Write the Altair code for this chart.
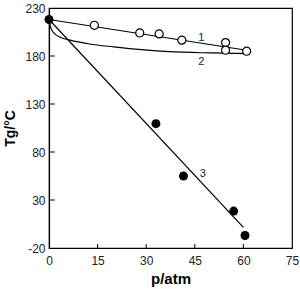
import altair as alt
import pandas as pd

# data
open_p = [14, 28, 34, 41, 54.5, 54.5, 61]
open_T = [212, 204, 203, 196.5, 194, 186, 185]
filled_p = [0, 33, 41.5, 57, 60.5]
filled_T = [218, 109.5, 55, 18.5, -7]
line1_p = [0, 62]
line1_T = [218, 185.5]
line3_p = [0, 60]
line3_T = [218, 1.5]
curve2_p = [0, 0.5, 1.5, 3.5, 6.5, 12.5, 20, 37, 50, 62]
curve2_T = [218, 210, 204, 199.5, 196.5, 192.5, 189.5, 184.5, 183.2, 182.5]
label_text = ["1", "2", "3"]
label_p = [47, 47, 47.5]
label_T = [199, 174, 57]
x_ticks = [0, 15, 30, 45, 60, 75]
y_ticks = [-20, 30, 80, 130, 180, 230]

W, H = 243, 240
FONT = "Liberation Sans"

xs = alt.Scale(domain=[0, 75], nice=False, zero=False)
ys = alt.Scale(domain=[-20, 230], nice=False, zero=False)

xax = alt.Axis(values=x_ticks, title="p/atm", ticks=False, grid=False,
               labelFontSize=12, labelPadding=7, labelColor="#222",
               titleFontSize=15, titleFont=FONT, titleFontWeight="bold",
               titlePadding=5, domainColor="black", labelFlush=False)
yax = alt.Axis(values=y_ticks, title="Tg/°C", ticks=False, grid=False,
               labelFontSize=12, labelPadding=4, labelColor="#222",
               labelExpr="replace(datum.label, '\u2212', '-')",
               titleFontSize=14, titleFont=FONT, titleFontWeight="bold",
               titlePadding=7, domainColor="black", labelFlush=False)

df_open = pd.DataFrame({"p": open_p, "T": open_T})
df_fill = pd.DataFrame({"p": filled_p, "T": filled_T})
df_l1 = pd.DataFrame({"p": line1_p, "T": line1_T})
df_l3 = pd.DataFrame({"p": line3_p, "T": line3_T})
df_c2 = pd.DataFrame({"p": curve2_p, "T": curve2_T})
df_lab = pd.DataFrame({"p": label_p, "T": label_T, "t": label_text})
df_xt = pd.DataFrame({"v": x_ticks[1:-1]})
df_yt = pd.DataFrame({"v": y_ticks[1:-1]})

l1 = alt.Chart(df_l1).mark_line(color="black", strokeWidth=1.2).encode(
    x=alt.X("p:Q", scale=xs, axis=xax), y=alt.Y("T:Q", scale=ys, axis=yax))
l3 = alt.Chart(df_l3).mark_line(color="black", strokeWidth=1.2).encode(
    x=alt.X("p:Q", scale=xs), y=alt.Y("T:Q", scale=ys))
c2 = alt.Chart(df_c2).mark_line(color="black", strokeWidth=1.2, interpolate="monotone").encode(
    x=alt.X("p:Q", scale=xs), y=alt.Y("T:Q", scale=ys))
op = alt.Chart(df_open).mark_point(shape="circle", filled=False, color="black",
                                    fill="white", fillOpacity=1, size=65, strokeWidth=1.2).encode(
    x=alt.X("p:Q", scale=xs), y=alt.Y("T:Q", scale=ys))
fp = alt.Chart(df_fill).mark_circle(color="black", size=80, opacity=1).encode(
    x=alt.X("p:Q", scale=xs), y=alt.Y("T:Q", scale=ys))
lab = alt.Chart(df_lab).mark_text(font=FONT, fontSize=11, color="#222").encode(
    x=alt.X("p:Q", scale=xs), y=alt.Y("T:Q", scale=ys), text="t:N")
xt = alt.Chart(df_xt).mark_rule(color="black", strokeWidth=1).encode(
    x=alt.X("v:Q", scale=xs), y=alt.value(H), y2=alt.value(H - 4))
yt = alt.Chart(df_yt).mark_rule(color="black", strokeWidth=1).encode(
    y=alt.Y("v:Q", scale=ys), x=alt.value(0), x2=alt.value(6))

chart = alt.layer(c2, l1, l3, xt, yt, op, fp, lab).properties(
    width=W, height=H,
    autosize=alt.AutoSizeParams(type="none"),
    padding={"left": 49, "top": 8, "right": 8, "bottom": 41},
    background="white",
).configure_view(stroke="black", strokeWidth=1.2).configure_axis(
    labelFont=FONT, domainWidth=1.2)

chart.save("out.html", embed_options={"renderer": "svg", "actions": False})
